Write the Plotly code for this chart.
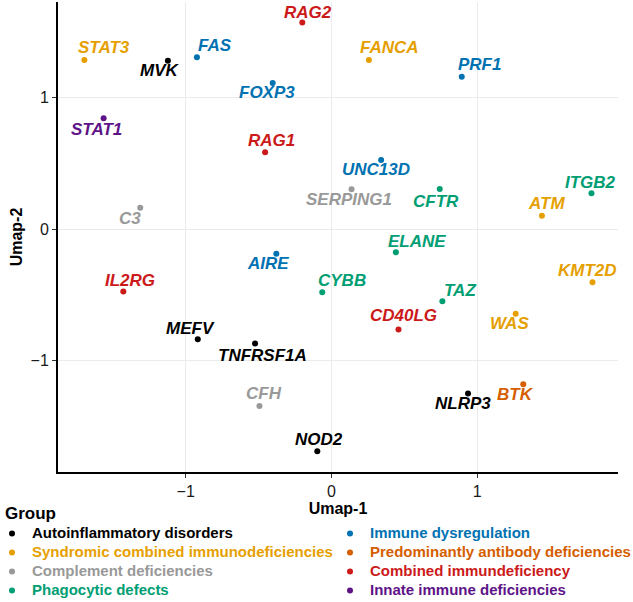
import plotly.graph_objects as go

# ---- data ----
groups_col1 = [
    "Autoinflammatory disorders",
    "Syndromic combined immunodeficiencies",
    "Complement deficiencies",
    "Phagocytic defects",
]
groups_col2 = [
    "Immune dysregulation",
    "Predominantly antibody deficiencies",
    "Combined immundeficiency",
    "Innate immune deficiencies",
]
group_colors = {
    "Autoinflammatory disorders": "#000000",
    "Syndromic combined immunodeficiencies": "#E69F00",
    "Complement deficiencies": "#999999",
    "Phagocytic defects": "#009E73",
    "Immune dysregulation": "#0072B2",
    "Predominantly antibody deficiencies": "#D55E00",
    "Combined immundeficiency": "#CC1A1A",
    "Innate immune deficiencies": "#5E1488",
}

genes = ["STAT3", "MVK", "FAS", "FOXP3", "STAT1", "RAG1", "C3", "RAG2", "FANCA", "PRF1",
         "UNC13D", "SERPING1", "CFTR", "ITGB2", "ATM", "ELANE", "AIRE", "IL2RG", "MEFV",
         "TNFRSF1A", "CFH", "NOD2", "CYBB", "TAZ", "CD40LG", "KMT2D", "WAS", "NLRP3", "BTK"]
umap1 = [-1.695, -1.122, -0.923, -0.403, -1.563, -0.455, -1.312, -0.200, 0.257, 0.894,
         0.341, 0.138, 0.743, 1.784, 1.444, 0.442, -0.378, -1.428, -0.917,
         -0.524, -0.494, -0.097, -0.063, 0.761, 0.460, 1.791, 1.264, 0.937, 1.316]
umap2 = [1.285, 1.278, 1.305, 1.110, 0.842, 0.583, 0.162, 1.569, 1.285, 1.158,
         0.525, 0.302, 0.304, 0.271, 0.101, -0.177, -0.188, -0.474, -0.837,
         -0.869, -1.344, -1.688, -0.481, -0.548, -0.763, -0.405, -0.644, -1.250, -1.179]
gene_group = ["Syndromic combined immunodeficiencies", "Autoinflammatory disorders", "Immune dysregulation",
              "Immune dysregulation", "Innate immune deficiencies", "Combined immundeficiency",
              "Complement deficiencies", "Combined immundeficiency", "Syndromic combined immunodeficiencies",
              "Immune dysregulation", "Immune dysregulation", "Complement deficiencies", "Phagocytic defects",
              "Phagocytic defects", "Syndromic combined immunodeficiencies", "Phagocytic defects",
              "Immune dysregulation", "Combined immundeficiency", "Autoinflammatory disorders",
              "Autoinflammatory disorders", "Complement deficiencies", "Autoinflammatory disorders",
              "Phagocytic defects", "Phagocytic defects", "Combined immundeficiency",
              "Syndromic combined immunodeficiencies", "Syndromic combined immunodeficiencies",
              "Autoinflammatory disorders", "Predominantly antibody deficiencies"]

# label offsets in pixels (dx right, dy down) - repel-style placement
label_dx = [19.5, -8, 18, -6, -7, 6, -10, 5.5, 21, 18,
            -5, -3, -4, -1, 5, 21, -8, 6.5, -7,
            7, 4.5, 2, 20, 18, 5.5, -5, -6.5, -5.5, -8]
label_dy = [-12.3, 10, -12, 10, 11, -12, 11, -10.5, -12, -12,
            10, 10, 12, -11, -12, -11, 10, -11, -11,
            12, -12, -12, -12, -11, -14, -12, 10, 10, 10]

FONT = "Liberation Sans, Arial, sans-serif"
W, H = 633, 602
ML, MR, MT, MB = 58, 15, 2, 130
PW, PH = W - ML - MR, H - MT - MB


def px_x(px):
    return (px - ML) / PW


def px_y(py):
    return (H - MB - py) / PH


fig = go.Figure()
for col, legend_id in ((groups_col1, "legend"), (groups_col2, "legend2")):
    for g in col:
        idx = [i for i, gg in enumerate(gene_group) if gg == g]
        fig.add_trace(go.Scatter(
            x=[umap1[i] for i in idx], y=[umap2[i] for i in idx],
            mode="markers",
            name=f"<span style='color:{group_colors[g]};font-size:15px'><b>{g}</b></span>",
            marker=dict(color=group_colors[g], size=6),
            hoverinfo="skip", legend=legend_id,
        ))

for i, gname in enumerate(genes):
    fig.add_annotation(
        x=umap1[i], y=umap2[i], text=f"<b><i>{gname}</i></b>", showarrow=False,
        xshift=label_dx[i], yshift=-label_dy[i],
        font=dict(family=FONT, size=17, color=group_colors[gene_group[i]]),
    )

fig.add_annotation(
    xref="paper", yref="paper", x=px_x(3), y=px_y(513), xanchor="left", yanchor="middle",
    text="<b>Group</b>", showarrow=False, font=dict(family=FONT, size=17, color="black"),
)

axis_common = dict(
    showgrid=True, gridcolor="#EBEBEB", gridwidth=1, zeroline=False,
    showline=True, linecolor="black", linewidth=2, mirror=False,
    ticks="outside", ticklen=4, tickcolor="#333333", tickwidth=1,
    tickfont=dict(size=16, color="#1A1A1A", family=FONT),
    dtick=1, tick0=0, automargin=False,
)
fig.update_xaxes(range=[-1.876, 1.966], title=dict(text="<b>Umap-1</b>", standoff=0,
                 font=dict(size=16, color="black", family=FONT)), **axis_common)
fig.update_yaxes(range=[-1.846, 1.725], title=dict(text="<b>Umap-2</b>", standoff=4,
                 font=dict(size=16, color="black", family=FONT)), **axis_common)

legend_common = dict(
    orientation="v", xanchor="left", yanchor="top", bgcolor="rgba(0,0,0,0)", borderwidth=0,
    font=dict(size=12, family=FONT), itemwidth=30, traceorder="normal", tracegroupgap=0,
)
fig.update_layout(
    width=W, height=H,
    margin=dict(l=ML, r=MR, t=MT, b=MB, autoexpand=False),
    plot_bgcolor="white", paper_bgcolor="white",
    font=dict(family=FONT, color="black"),
    showlegend=True,
    legend=dict(x=px_x(-8), y=px_y(519), **legend_common),
    legend2=dict(x=px_x(330), y=px_y(519), **legend_common),
)

fig.write_html("out.html", config={"displayModeBar": False},
               post_script="document.body.style.margin='0';")
